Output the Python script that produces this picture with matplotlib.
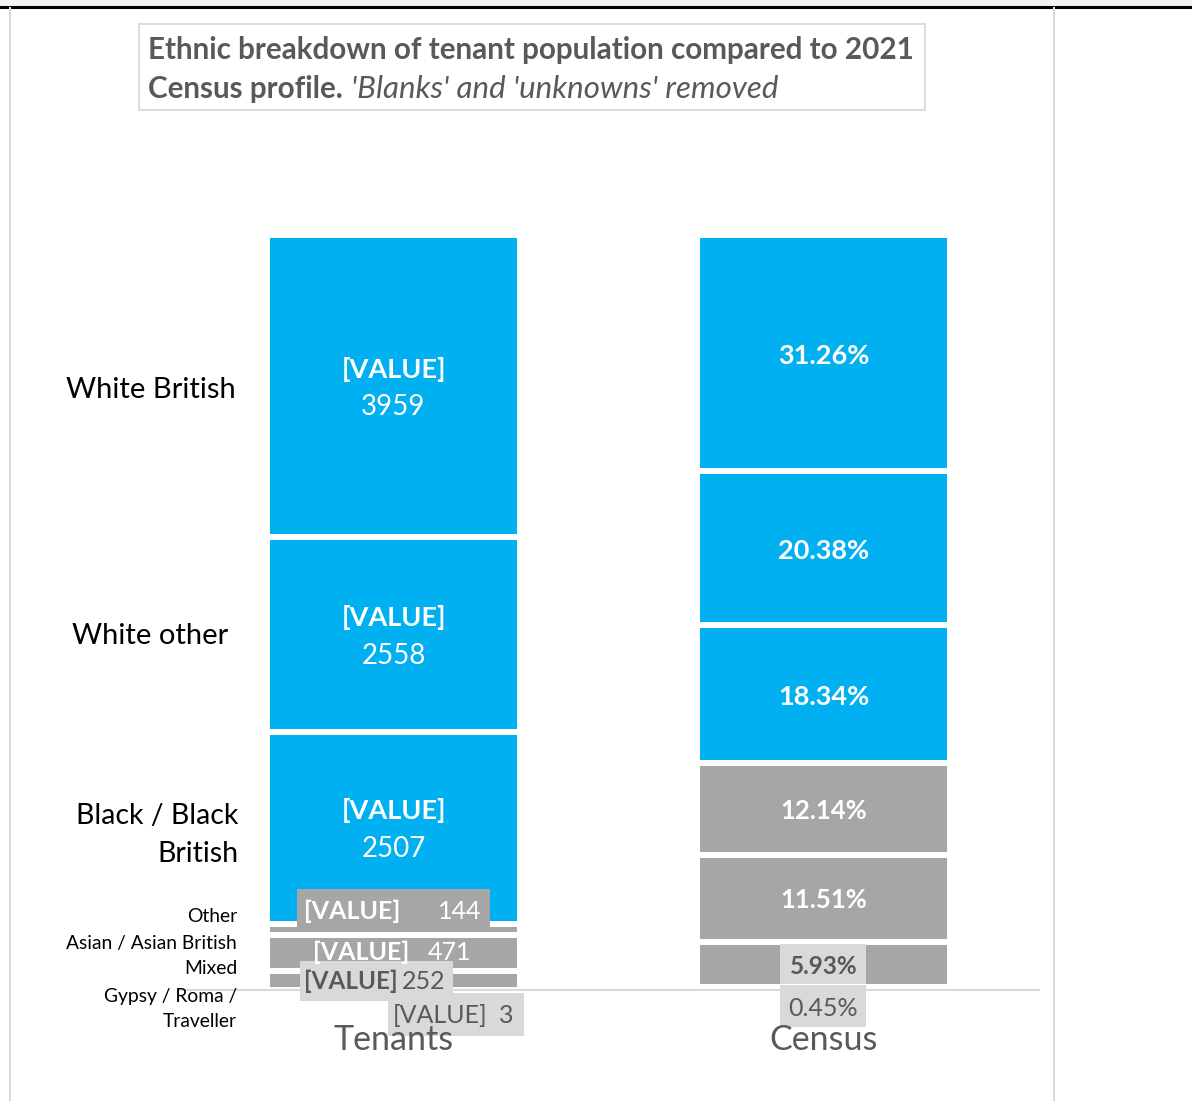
import matplotlib
matplotlib.use('Agg')
from matplotlib import pyplot as plt
from matplotlib.patches import Rectangle
from matplotlib.lines import Line2D

plt.rcParams['font.family'] = ['Lato', 'DejaVu Sans']

# data
groups = ['Tenants', 'Census']
categories = ['Gypsy / Roma /\nTraveller', 'Mixed', 'Asian / Asian British', 'Other',
              'Black / Black\nBritish', 'White other', 'White British']
tenants = [3, 252, 471, 144, 2507, 2558, 3959]
census = [0.45, 5.93, 11.51, 12.14, 18.34, 20.38, 31.26]
census_labels = ['0.45%', '5.93%', '11.51%', '12.14%', '18.34%', '20.38%', '31.26%']

BLUE = '#00B0F0'
GREY = '#A6A6A6'
LIGHT = '#D9D9D9'
DARK = '#595959'
colours = [GREY, GREY, GREY, GREY, BLUE, BLUE, BLUE]

W, H = 1192, 1101
fig = plt.figure(figsize=(W / 100, H / 100), dpi=100)


def fx(x):
    return x / W


def fy(y):
    return 1 - y / H


# frame of the chart area
fig.patches.append(Rectangle((0, fy(6)), 1, 1 - fy(6), transform=fig.transFigure,
                             facecolor='#F2F2F2', edgecolor='none'))
fig.lines.append(Line2D([0, 1], [fy(6.5), fy(6.5)], transform=fig.transFigure, color='black', lw=2.2))
fig.lines.append(Line2D([fx(9.5), fx(9.5)], [fy(8), 0], transform=fig.transFigure, color=LIGHT, lw=1.5))
fig.lines.append(Line2D([fx(1054), fx(1054)], [fy(8), 0], transform=fig.transFigure, color=LIGHT, lw=1.5))

ax = fig.add_axes([fx(178.5), fy(990), fx(1038.5) - fx(178.5), fy(235) - fy(990)])
ax.set_xlim(-0.5, 1.5)
ax.set_ylim(0, 1)

t_total = sum(tenants)
c_total = sum(census)
width = 253 / 430
for gi, vals, tot in [(0, tenants, t_total), (1, census, c_total)]:
    bottom = 0
    for v, col in zip(vals, colours):
        ax.bar(gi, v / tot, width=width, bottom=bottom, color=col,
               edgecolor='white', linewidth=4.3)
        bottom += v / tot

for s in ['top', 'left', 'right']:
    ax.spines[s].set_visible(False)
ax.spines['bottom'].set_color(LIGHT)
ax.spines['bottom'].set_linewidth(1.5)
ax.set_yticks([])
ax.set_xticks([0, 1])
ax.set_xticklabels([])
ax.tick_params(axis='x', length=0)


def centre(gi, vals, i):
    tot = sum(vals)
    b = sum(vals[:i]) / tot
    mid = b + vals[i] / tot / 2
    x, y = ax.transData.transform((gi, mid))
    return x, H - y


def ftext(x, y, s, **kw):
    return fig.text(fx(x), fy(y), s, zorder=6, **kw)


def fbox(x0, y0, x1, y1, col):
    fig.patches.append(Rectangle((fx(x0), fy(y1)), fx(x1) - fx(x0), fy(y0) - fy(y1),
                                 transform=fig.transFigure, facecolor=col, edgecolor='none', zorder=4))


# tenants labels: big blue segments
for i in [4, 5, 6]:
    cx, cy = centre(0, tenants, i)
    ftext(cx, cy - 17, '[VALUE]', ha='center', va='center', fontsize=19.5,
          fontweight='bold', color='white')
    ftext(cx, cy + 21, str(tenants[i]), ha='center', va='center', fontsize=20, color='white')

# Other
cx, cy = centre(0, tenants, 3)
ly = cy - 18
fbox(cx - 96.5, ly - 22, cx + 96.5, ly + 18, GREY)
ftext(cx + 6.5, ly, '[VALUE]', ha='right', va='center', fontsize=18, fontweight='bold', color='white')
ftext(cx + 88, ly, str(tenants[3]), ha='right', va='center', fontsize=18, color='white')

# Asian
cx, cy = centre(0, tenants, 2)
ly = cy
ftext(cx + 16, ly, '[VALUE]', ha='right', va='center', fontsize=18, fontweight='bold', color='white')
ftext(cx + 78, ly, str(tenants[2]), ha='right', va='center', fontsize=18, color='white')

# Mixed
cx, cy = centre(0, tenants, 1)
ly = cy + 1
fbox(cx - 93.5, ly - 20, cx + 59.5, ly + 20, LIGHT)
ftext(cx + 4.5, ly, '[VALUE]', ha='right', va='center', fontsize=17.5, fontweight='bold', color=DARK)
ftext(cx + 52, ly, str(tenants[1]), ha='right', va='center', fontsize=18, color=DARK)

# Gypsy / Roma / Traveller
cx, cy = centre(0, tenants, 0)
ly = cy + 26
fbox(cx - 5.5, ly - 23, cx + 130.5, ly + 20, LIGHT)
ftext(cx + 94, ly, '[VALUE]', ha='right', va='center', fontsize=18, color=DARK)
ftext(cx + 120, ly, str(tenants[0]), ha='right', va='center', fontsize=18, color=DARK)

# census labels
for i in [4, 5, 6]:
    cx, cy = centre(1, census, i)
    ftext(cx, cy + 3, census_labels[i], ha='center', va='center', fontsize=19.5,
          fontweight='bold', color='white')
for i in [2, 3]:
    cx, cy = centre(1, census, i)
    ftext(cx, cy + 2, census_labels[i], ha='center', va='center', fontsize=18.5,
          fontweight='bold', color='white')
cx, cy = centre(1, census, 1)
fbox(cx - 43.5, cy - 20, cx + 42.5, cy + 20, LIGHT)
ftext(cx, cy + 2, census_labels[1], ha='center', va='center', fontsize=17.5, fontweight='bold', color=DARK)
cx, cy = centre(1, census, 0)
ly = cy + 19
fbox(cx - 43.5, ly - 22, cx + 42.5, ly + 20, LIGHT)
ftext(cx, ly + 1, census_labels[0], ha='center', va='center', fontsize=18, color=DARK)

# group names under the bars
for gi, name in enumerate(groups):
    x, _ = ax.transData.transform((gi, 0))
    ftext(x, 1050, name, ha='center', va='baseline', fontsize=24.5, color=DARK)

# category names on the left
ftext(151, 390, categories[6], ha='center', va='center', fontsize=21, color='black')
ftext(150, 636, categories[5], ha='center', va='center', fontsize=21, color='black')
ftext(238, 835, categories[4], ha='right', va='center', fontsize=20.5, color='black',
      linespacing=1.55, multialignment='right')
ftext(237, 917, categories[3], ha='right', va='center', fontsize=13.9, color='black')
ftext(237, 943, categories[2], ha='right', va='center', fontsize=13.9, color='black')
ftext(237, 969, categories[1], ha='right', va='center', fontsize=13.9, color='black')
ftext(237, 1009, categories[0], ha='right', va='center', fontsize=13.9, color='black',
      linespacing=1.62, multialignment='right')

# title box
fig.patches.append(Rectangle((fx(139), fy(110)), fx(925) - fx(139), fy(24) - fy(110),
                             transform=fig.transFigure, facecolor='white', edgecolor=LIGHT, lw=1.3))
ftext(148, 50, 'Ethnic breakdown of tenant population compared to 2021', ha='left', va='center',
      fontsize=21.3, fontweight='bold', color=DARK)
t1 = ftext(148, 89, 'Census profile.', ha='left', va='center',
           fontsize=21.3, fontweight='bold', color=DARK)
fig.canvas.draw()
bb = t1.get_window_extent()
fig.text(fx(bb.x1 + 8), fy(89), "'Blanks' and 'unknowns' removed", ha='left', va='center',
         fontsize=22.5, fontstyle='italic', color=DARK)

fig.savefig('out.png', dpi=100, facecolor='white')
